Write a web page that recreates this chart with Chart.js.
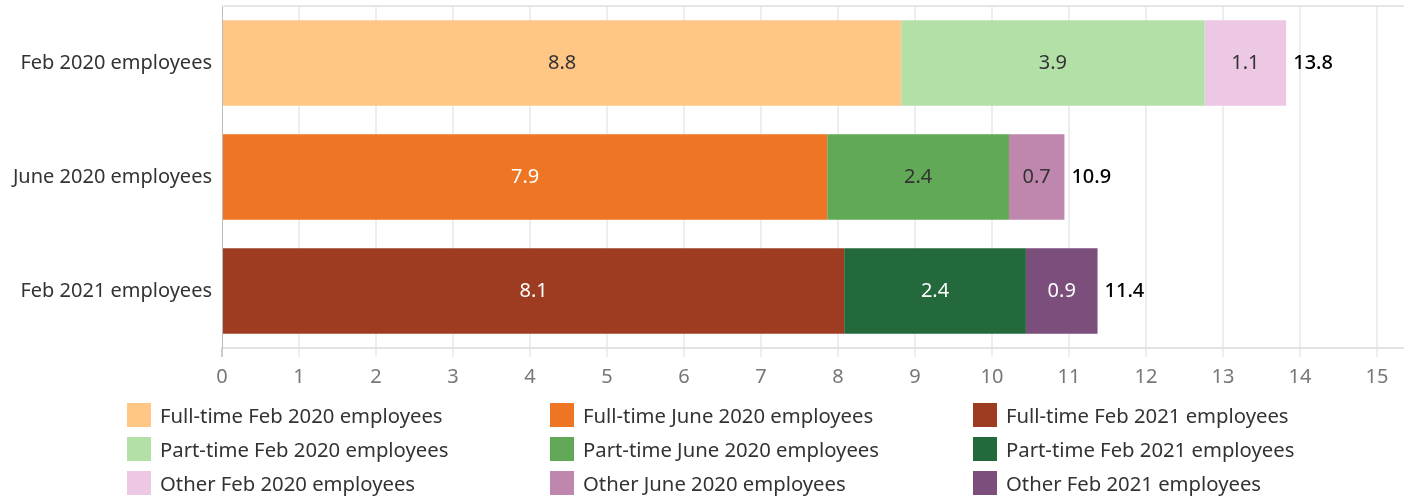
<!DOCTYPE html>
<html>
<head>
<meta charset="utf-8">
<title>Employees by type</title>
<script src="https://cdn.jsdelivr.net/npm/chart.js@4/dist/chart.umd.min.js"></script>
<style>
    html, body { margin: 0; padding: 0; background: #fff; }
    #wrap { position: relative; width: 1404px; height: 496px; }
    #chart-box { position: absolute; left: 0; top: 0; width: 1404px; height: 496px; }
    #legend {
        position: absolute; left: 127px; top: 398px;
        display: grid; grid-template-columns: 423px 423px 423px; grid-auto-rows: 34px;
        font: 20.3px "Noto Sans", sans-serif; color: #333;
    }
    .item { display: flex; align-items: center; white-space: nowrap; }
    .swatch { width: 24px; height: 24px; margin-right: 9px; flex: none; }
</style>
</head>
<body>
<div id="wrap">
    <div id="chart-box"><canvas id="stats-chart"></canvas></div>
    <div id="legend"></div>
</div>
<script>
// Données (millions)
const categories = ["Feb 2020 employees", "June 2020 employees", "Feb 2021 employees"];
const fullTime = [8.82, 7.86, 8.08];
const partTime = [3.94, 2.36, 2.36];
const other = [1.06, 0.72, 0.93];
const xTicks = [0, 1, 2, 3, 4, 5, 6, 7, 8, 9, 10, 11, 12, 13, 14, 15];
const axisMax = 15.35;

const FONT = '"Noto Sans", sans-serif';

// Couleurs par type, une par catégorie
const types = [
    { name: "Full-time", values: fullTime, colors: ["#ffc686", "#ed7523", "#9e3c22"], text: ["#333", "#fff", "#fff"] },
    { name: "Part-time", values: partTime, colors: ["#b3e0a6", "#61a956", "#23693c"], text: ["#333", "#333", "#fff"] },
    { name: "Other", values: other, colors: ["#ecc8e4", "#c087ae", "#7b4e7b"], text: ["#333", "#333", "#fff"] }
];

// Un dataset par type et par catégorie (ordre de la légende)
const datasets = [];
types.forEach(t => {
    categories.forEach((cat, i) => {
        datasets.push({
            label: t.name + " " + cat,
            data: categories.map((c, j) => (j === i ? t.values[i] : null)),
            backgroundColor: t.colors[i],
            labelColor: t.text[i],
            categoryPercentage: 1,
            barPercentage: 0.75
        });
    });
});

// Étiquettes de valeurs et totaux
const valueLabels = {
    id: "valueLabels",
    afterDatasetsDraw(chart) {
        const { ctx } = chart;
        ctx.save();
        ctx.textBaseline = "middle";
        ctx.font = "20px " + FONT;
        chart.data.datasets.forEach((ds, i) => {
            chart.getDatasetMeta(i).data.forEach((bar, j) => {
                const v = ds.data[j];
                if (v == null) return;
                ctx.fillStyle = ds.labelColor;
                ctx.textAlign = "center";
                ctx.fillText(v.toFixed(1), (bar.x + bar.base) / 2, bar.y);
            });
        });
        ctx.font = "500 20px " + FONT;
        categories.forEach((c, j) => {
            const total = fullTime[j] + partTime[j] + other[j];
            const x = chart.scales.x.getPixelForValue(total);
            const y = chart.scales.y.getPixelForValue(j);
            ctx.fillStyle = "#000";
            ctx.textAlign = "left";
            ctx.fillText(total.toFixed(1), x + 7, y);
        });
        ctx.restore();
    }
};

// Ligne du haut de la zone de tracé
const topLine = {
    id: "topLine",
    beforeDatasetsDraw(chart) {
        const { ctx, chartArea } = chart;
        ctx.save();
        ctx.strokeStyle = "#e6e6e6";
        ctx.lineWidth = 2;
        ctx.beginPath();
        ctx.moveTo(chartArea.left, chartArea.top);
        ctx.lineTo(chartArea.right, chartArea.top);
        ctx.stroke();
        ctx.restore();
    }
};

const ctx = document.getElementById("stats-chart").getContext("2d");
new Chart(ctx, {
    type: "bar",
    data: { labels: categories, datasets: datasets },
    plugins: [valueLabels, topLine],
    options: {
        indexAxis: "y",
        responsive: true,
        maintainAspectRatio: false,
        animation: false,
        layout: { padding: { top: 6, right: 0, bottom: 104, left: 0 } },
        plugins: {
            legend: { display: false },
            tooltip: { enabled: false }
        },
        scales: {
            x: {
                type: "linear",
                stacked: true,
                min: 0,
                max: axisMax,
                afterBuildTicks: s => { s.ticks = xTicks.map(v => ({ value: v })); },
                afterFit: s => { s.height = 44; s.paddingLeft = 0; s.paddingRight = 0; },
                ticks: { color: "#777", font: { size: 20, family: FONT }, padding: 8, maxRotation: 0, autoSkip: false },
                grid: {
                    color: c => (c.index === 0 ? "rgba(0,0,0,0)" : "#eeeeee"),
                    tickColor: c => (c.index === 0 ? "#cccccc" : "#eeeeee"),
                    lineWidth: 2,
                    tickLength: 9
                },
                border: { display: true, color: "#e2e2e2", width: 2 }
            },
            y: {
                stacked: true,
                afterFit: s => { s.width = 222; s.paddingTop = 0; s.paddingBottom = 0; },
                grid: { display: false, drawTicks: false },
                border: { display: true, color: "#bbbbbb", width: 1, dash: [3, 3] },
                ticks: { color: "#333", font: { size: 20, family: FONT }, padding: 10 }
            }
        }
    }
});

// Légende HTML en 3 colonnes
const legend = document.getElementById("legend");
datasets.forEach(ds => {
    const item = document.createElement("div");
    item.className = "item";
    const sw = document.createElement("span");
    sw.className = "swatch";
    sw.style.background = ds.backgroundColor;
    const txt = document.createElement("span");
    txt.textContent = ds.label;
    item.appendChild(sw);
    item.appendChild(txt);
    legend.appendChild(item);
});
</script>
</body>
</html>
